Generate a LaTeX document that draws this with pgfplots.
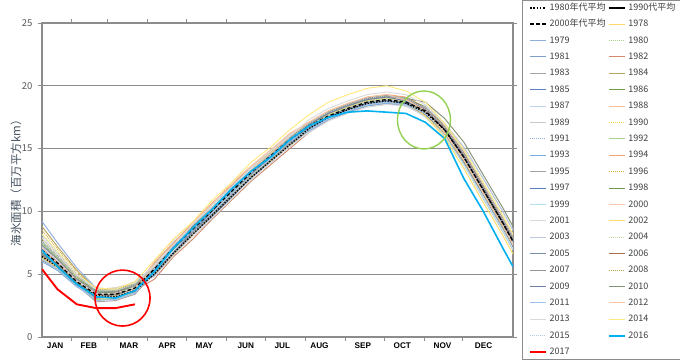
\documentclass[border=0pt]{standalone}
\usepackage{fontspec}
\setmainfont{Noto Sans CJK JP}
\newfontfamily\libsans{Liberation Sans}
\usepackage{pgfplots}
\usepackage{pgfplotstable}
\pgfplotsset{compat=1.18}
\definecolor{axisgray}{HTML}{8C8C8C}
\definecolor{gridgray}{HTML}{8C8C8C}
\definecolor{tickgray}{HTML}{595959}
\definecolor{labelgray}{HTML}{44505E}
\definecolor{legtext}{HTML}{404040}
\definecolor{c1978}{HTML}{FFD966}
\definecolor{c1979}{HTML}{8FAEDC}
\definecolor{c1980}{HTML}{A9D18E}
\definecolor{c1981}{HTML}{7F9FC7}
\definecolor{c1982}{HTML}{D08B6C}
\definecolor{c1983}{HTML}{A5A5A5}
\definecolor{c1984}{HTML}{B9A45E}
\definecolor{c1985}{HTML}{5F7FC4}
\definecolor{c1986}{HTML}{6E9F4E}
\definecolor{c1987}{HTML}{BDD3EE}
\definecolor{c1988}{HTML}{F8C09A}
\definecolor{c1989}{HTML}{C8C8C8}
\definecolor{c1990}{HTML}{FFD54F}
\definecolor{c1991}{HTML}{8EAAD6}
\definecolor{c1992}{HTML}{A9D18E}
\definecolor{c1993}{HTML}{7FAEE0}
\definecolor{c1994}{HTML}{F4A46E}
\definecolor{c1995}{HTML}{A8A4A4}
\definecolor{c1996}{HTML}{D4B040}
\definecolor{c1997}{HTML}{5C7CC0}
\definecolor{c1998}{HTML}{6F9A4E}
\definecolor{c1999}{HTML}{B8E0F2}
\definecolor{c2000}{HTML}{F9C8B0}
\definecolor{c2001}{HTML}{D9D9D9}
\definecolor{c2002}{HTML}{FFDD66}
\definecolor{c2003}{HTML}{BCC8DC}
\definecolor{c2004}{HTML}{BEDCA8}
\definecolor{c2005}{HTML}{7A8EAA}
\definecolor{c2006}{HTML}{A86E50}
\definecolor{c2007}{HTML}{939393}
\definecolor{c2008}{HTML}{BBA350}
\definecolor{c2009}{HTML}{6F84A4}
\definecolor{c2010}{HTML}{849276}
\definecolor{c2011}{HTML}{9EC4EE}
\definecolor{c2012}{HTML}{F8C5A2}
\definecolor{c2013}{HTML}{DADADA}
\definecolor{c2014}{HTML}{FFEA80}
\definecolor{c2015}{HTML}{B0C8E6}
\definecolor{c2016}{HTML}{00B0F0}
\definecolor{c2017}{HTML}{FF0000}
\definecolor{circgreen}{HTML}{92D050}

\pgfplotstableread{
d a80 a90 a00 y1978 y1979 y1980 y1981 y1982 y1983 y1984 y1985 y1986 y1987 y1988 y1989 y1990 y1991 y1992 y1993 y1994 y1995 y1996 y1997 y1998 y1999 y2000 y2001 y2002 y2003 y2004 y2005 y2006 y2007 y2008 y2009 y2010 y2011 y2012 y2013 y2014 y2015 y2016 y2017
8 6.4 6.8 6.9 nan 9.2 7.4 7.1 6.9 6.6 8.8 7.0 7.5 6.5 7.2 6.3 6.8 6.7 6.2 6.0 6.9 6.1 8.5 7.3 7.6 7.2 7.1 6.8 6.3 7.6 7.5 6.7 6.4 7.3 7.8 6.5 6.6 6.2 6.4 7.9 8.2 8.1 6.9 5.4
20 5.6 5.8 5.9 nan 7.5 6.3 6.0 5.9 5.8 7.2 6.0 6.3 5.6 6.1 5.5 5.8 5.8 5.4 5.3 5.9 5.4 7.0 6.2 6.4 6.1 6.0 5.8 5.5 6.4 6.3 5.8 5.6 6.2 6.5 5.6 5.7 5.4 5.6 6.6 6.8 6.7 5.6 3.8
35 4.2 4.4 4.4 nan 5.5 4.7 4.5 4.4 4.3 5.3 4.5 4.7 4.3 4.6 4.2 4.4 4.3 4.1 4.0 4.4 4.1 5.2 4.6 4.8 4.6 4.5 4.4 4.2 4.8 4.7 4.3 4.2 4.6 4.8 4.3 4.3 4.1 4.2 4.9 5.0 5.0 4.2 2.6
50 3.3 3.3 3.4 nan 3.9 3.6 3.3 3.3 3.5 3.8 3.4 3.7 3.1 3.5 3.0 3.2 3.2 3.0 3.1 3.5 2.8 3.7 3.6 3.5 3.3 3.4 3.5 3.1 3.9 3.6 3.2 3.2 3.6 3.8 3.1 3.3 2.9 3.3 3.8 3.9 3.7 3.2 2.3
65 3.2 3.3 3.4 nan 3.8 3.6 3.4 3.2 3.5 3.9 3.3 3.6 3.2 3.4 3.0 3.3 3.1 3.0 3.2 3.4 2.9 3.8 3.5 3.6 3.2 3.5 3.4 3.1 3.8 3.7 3.2 3.1 3.6 3.7 3.2 3.4 3.0 3.2 3.9 3.8 3.7 3.1 2.3
80 3.7 3.8 3.9 nan 4.4 4.1 3.8 3.7 4.0 4.3 3.9 4.2 3.6 4.0 3.5 3.7 3.7 3.5 3.6 4.0 3.4 4.2 4.1 4.0 3.8 3.9 4.0 3.6 4.4 4.1 3.7 3.7 4.1 4.3 3.6 3.8 3.5 3.8 4.3 4.4 4.2 3.7 2.6
95 5.0 5.3 5.4 nan 5.6 5.7 5.5 4.6 5.3 5.4 5.1 5.6 5.8 5.3 5.0 5.0 4.9 5.7 5.2 5.9 5.1 5.5 4.9 5.4 5.2 6.0 4.8 5.4 5.6 5.5 5.1 5.5 5.3 5.0 5.4 5.5 5.4 5.6 5.7 6.1 5.5 5.2 nan
110 6.7 7.0 7.1 nan 7.4 7.3 7.2 6.4 7.1 7.0 6.9 7.3 7.6 7.0 6.6 6.8 6.6 7.3 6.9 7.5 6.8 7.3 6.6 7.0 6.9 7.8 6.5 7.2 7.2 7.3 6.7 7.1 7.1 6.6 7.2 7.1 7.1 7.4 7.3 7.8 7.3 7.1 nan
125 8.2 8.5 8.6 nan 8.7 8.9 8.8 7.8 8.5 8.7 8.3 8.9 8.9 8.6 8.2 8.1 8.2 8.9 8.3 9.1 8.4 8.6 8.2 8.6 8.3 9.1 8.0 8.5 8.9 8.6 8.4 8.8 8.4 8.2 8.5 8.8 8.5 8.7 9.0 9.2 8.7 8.7 nan
140 9.7 10.0 10.1 nan 10.3 10.5 10.1 9.4 10.1 10.0 9.8 10.3 10.6 9.9 9.7 9.8 9.5 10.3 9.9 10.7 9.7 10.2 9.6 10.2 9.9 10.6 9.5 10.2 10.2 10.3 9.8 10.1 10.1 9.7 10.0 10.3 10.2 10.3 10.4 10.9 10.1 10.2 nan
155 11.2 11.5 11.6 nan 11.8 11.9 11.7 10.9 11.4 11.7 11.3 11.8 12.0 11.6 11.1 11.2 11.2 11.9 11.3 12.1 11.3 11.8 11.1 11.5 11.4 12.3 11.0 11.6 11.8 11.6 11.3 11.7 11.5 11.2 11.7 11.6 11.5 11.9 11.9 12.3 11.7 11.8 nan
170 12.7 13.0 13.1 nan 13.3 13.4 13.2 12.4 13.1 13.0 12.8 13.2 13.5 13.0 12.8 12.6 12.6 13.3 12.9 13.6 12.8 13.3 12.7 13.1 12.8 13.6 12.5 13.1 13.2 13.3 12.7 13.2 13.0 12.8 13.1 13.2 13.1 13.3 13.4 13.9 13.2 13.2 nan
185 14.0 14.3 14.4 nan 14.5 14.7 14.5 13.7 14.3 14.4 14.1 14.6 14.7 14.3 14.0 14.0 13.9 14.7 14.2 14.8 14.2 14.5 13.9 14.4 14.2 14.9 13.9 14.4 14.5 14.5 14.1 14.5 14.3 14.0 14.4 14.5 14.4 14.6 14.8 15.1 14.5 14.3 nan
200 15.3 15.6 15.7 nan 15.9 15.9 15.8 15.0 15.7 15.7 15.4 15.9 16.1 15.6 15.3 15.3 15.3 15.9 15.5 16.2 15.5 15.8 15.2 15.8 15.4 16.2 15.2 15.7 15.9 15.8 15.4 15.8 15.7 15.3 15.7 15.8 15.6 16.0 16.0 16.5 15.8 15.7 nan
215 16.6 16.7 16.8 nan 16.8 16.9 16.6 16.3 16.8 16.5 16.6 16.9 17.0 16.9 16.5 16.6 16.7 16.8 16.4 17.1 16.9 16.7 16.5 17.0 16.5 17.0 16.3 16.8 16.7 16.8 16.6 17.0 17.0 16.5 16.9 17.0 16.5 17.1 17.3 17.7 17.0 16.8 nan
230 17.5 17.6 17.6 nan 17.5 17.8 17.5 17.3 17.7 17.4 17.5 17.8 17.9 17.8 17.4 17.5 17.6 17.7 17.3 18.0 17.8 17.6 17.5 17.9 17.4 17.8 17.2 17.7 17.6 17.7 17.5 17.9 17.9 17.4 17.8 17.9 17.4 18.0 18.2 18.7 17.9 17.5 nan
245 18.1 18.2 18.2 nan 18.3 18.4 18.1 17.9 18.3 18.0 18.1 18.4 18.5 18.4 18.0 18.1 18.2 18.3 17.9 18.6 18.4 18.2 18.1 18.5 18.0 18.4 17.8 18.3 18.2 18.3 18.1 18.5 18.5 18.0 18.4 18.5 18.0 18.6 18.8 19.3 18.5 17.9 nan
260 18.6 18.7 18.7 nan 18.7 18.9 18.6 18.4 18.8 18.5 18.6 18.9 19.0 18.9 18.5 18.6 18.7 18.8 18.4 19.1 18.9 18.7 18.6 19.0 18.5 18.9 18.3 18.8 18.7 18.8 18.6 19.0 19.0 18.5 18.9 19.0 18.5 19.1 19.3 19.8 19.0 18.0 nan
275 18.8 18.9 18.9 nan 18.9 19.1 18.8 18.6 19.0 18.7 18.8 19.1 19.2 19.1 18.7 18.8 18.9 19.0 18.6 19.3 19.1 18.9 18.8 19.2 18.7 19.1 18.5 19.0 18.9 19.0 18.8 19.2 19.2 18.7 19.1 19.2 18.7 19.3 19.5 20.0 19.2 17.9 nan
290 18.6 18.7 18.7 nan 18.8 18.9 18.6 18.4 18.7 18.5 18.6 18.9 18.9 18.9 18.5 18.5 18.7 18.8 18.4 19.1 18.7 18.7 18.6 19.0 18.5 18.9 18.4 18.8 18.7 18.8 18.7 19.0 19.0 18.5 18.8 19.0 18.5 18.9 19.3 19.6 19.0 17.8 nan
305 17.9 17.9 18.0 18.1 18.0 18.3 18.0 17.9 18.2 17.9 17.9 18.1 18.4 18.2 17.6 17.6 18.0 17.9 17.6 18.3 18.0 17.9 17.7 18.3 17.5 18.1 17.6 17.6 18.3 17.9 18.0 18.2 18.1 17.7 18.0 18.7 17.8 18.0 18.5 18.7 18.2 17.1 nan
320 16.5 16.4 16.5 16.6 16.6 16.8 16.6 16.7 16.9 16.6 16.5 16.6 17.0 16.7 16.2 16.1 16.6 16.3 16.2 16.8 16.4 16.5 16.2 16.9 16.0 16.6 16.2 15.9 17.0 16.3 16.6 16.7 16.6 16.2 16.5 17.4 16.4 16.3 16.9 17.0 16.7 15.8 nan
335 14.3 14.2 14.3 14.5 14.4 14.7 14.5 14.6 14.8 14.4 14.3 14.5 15.1 14.6 13.7 13.8 14.4 14.1 14.0 14.7 14.2 14.3 13.9 14.8 13.7 14.4 14.0 13.4 15.1 14.1 14.5 14.6 14.4 14.0 14.3 15.5 14.2 14.1 14.8 14.9 14.6 12.6 nan
350 11.7 11.6 11.7 11.9 11.8 12.1 11.9 12.0 12.2 11.8 11.7 11.9 12.6 12.0 11.0 11.2 11.8 11.5 11.4 12.1 11.6 11.7 11.3 12.2 11.1 11.8 11.4 10.7 12.6 11.5 11.9 12.0 11.8 11.4 11.7 12.9 11.6 11.5 12.2 12.3 12.0 10.0 nan
365 9.1 9.0 9.1 9.3 9.2 9.5 9.3 9.4 9.6 9.2 9.1 9.3 10.0 9.4 8.4 8.6 9.2 8.9 8.8 9.5 9.0 9.1 8.7 9.6 8.5 9.2 8.8 8.1 10.0 8.9 9.3 9.4 9.2 8.8 9.1 10.3 9.0 8.9 9.6 9.7 9.4 7.1 nan
373 7.6 7.5 7.6 7.8 7.7 8.0 7.8 7.9 8.1 7.7 7.6 7.8 8.5 7.9 6.9 7.1 7.7 7.4 7.3 8.0 7.5 7.6 7.2 8.1 7.0 7.7 7.3 6.6 8.5 7.4 7.8 7.9 7.7 7.3 7.6 8.8 7.5 7.4 8.1 8.2 7.9 5.6 nan
}\seaice

\newcommand{\yr}[2]{\addplot[color=c#1, line width=0.95bp, #2] table[x=d, y=y#1]{\seaice};\addlegendentry{#1}}

\begin{document}
\begin{tikzpicture}
\begin{axis}[
  name=ax,
  scale only axis, width=471bp, height=314bp,
  xmin=8, xmax=373, ymin=0, ymax=25,
  axis line style={draw=axisgray, line width=1.2bp},
  ytick={0,5,10,15,20,25},
  ymajorgrids, grid style={draw=gridgray, line width=1.3bp},
  xtick={31,59,90,120,151,181,212,243,273,304,334},
  xticklabels={},
  extra x ticks={18.2,44.3,75.3,104.9,133.9,165.9,194.2,223,256.6,287.2,318.4,350.2},
  extra x tick labels={JAN,FEB,MAR,APR,MAY,JUN,JUL,AUG,SEP,OCT,NOV,DEC},
  extra x tick style={major tick length=0pt, tick style={draw=none}},
  tick align=outside, major tick length=4bp,
  tick style={draw=axisgray, line width=0.9bp},
  xticklabel style={font=\libsans\bfseries\fontsize{8.2bp}{9bp}\selectfont, text=black, yshift=-2bp},
  yticklabel style={font=\fontsize{9.5bp}{10bp}\selectfont, text=tickgray, xshift=-2bp},
  /pgf/number format/assume math mode=true,
  ylabel={海氷面積（百万平方km）},
  ylabel style={at={(axis description cs:-0.055,0.5)}, anchor=center, font=\fontsize{11.5bp}{12bp}\selectfont, text=labelgray},
  unbounded coords=discard,
  legend columns=2,
  legend cell align=left,
  legend image code/.code={\draw[#1] (0bp,0bp) -- (16bp,0bp);},
  legend style={at={(1.0191,1.0732)}, anchor=north west, draw=axisgray, fill=white,
    font=\fontsize{9bp}{10bp}\selectfont, text=legtext,
    inner xsep=7bp, inner ysep=3bp, row sep=7.4bp,
    nodes={inner sep=0pt, text height=7bp, text depth=2bp},
    /tikz/every odd column/.append style={column sep=2.5bp},
    /tikz/every even column/.append style={column sep=2bp}},
]
\addlegendimage{black, line width=1.6bp, dash pattern=on 1.6bp off 1.6bp}\addlegendentry{1980年代平均}
\addlegendimage{black, line width=2.2bp}\addlegendentry{1990代平均}
\addlegendimage{black, line width=1.6bp, dash pattern=on 4bp off 2bp}\addlegendentry{2000年代平均}
\addplot[forget plot, black, line width=1.4bp] table[x=d, y=a90]{\seaice};
\yr{1978}{}
\yr{1979}{}
\yr{1980}{dash pattern=on 1bp off 1bp}
\yr{1981}{}
\yr{1982}{}
\yr{1983}{}
\yr{1984}{}
\yr{1985}{}
\yr{1986}{}
\yr{1987}{}
\yr{1988}{}
\yr{1989}{}
\yr{1990}{dash pattern=on 1bp off 1bp}
\yr{1991}{dash pattern=on 1bp off 1bp}
\yr{1992}{}
\yr{1993}{}
\yr{1994}{}
\yr{1995}{}
\yr{1996}{dash pattern=on 1bp off 1bp}
\yr{1997}{}
\yr{1998}{}
\yr{1999}{}
\yr{2000}{}
\yr{2001}{}
\yr{2002}{}
\yr{2003}{}
\yr{2004}{dash pattern=on 1bp off 1bp}
\yr{2005}{}
\yr{2006}{}
\yr{2007}{}
\yr{2008}{dash pattern=on 1bp off 1bp}
\yr{2009}{}
\yr{2010}{}
\yr{2011}{}
\yr{2012}{}
\yr{2013}{}
\yr{2014}{}
\yr{2015}{dash pattern=on 1bp off 1bp}
\addplot[forget plot, black, line width=1.3bp, dash pattern=on 1.3bp off 1.6bp] table[x=d, y=a80]{\seaice};
\addplot[forget plot, black, line width=1.3bp, dash pattern=on 3.5bp off 2.5bp] table[x=d, y=a00]{\seaice};
\addplot[c2016, line width=1.6bp] table[x=d, y=y2016]{\seaice};\addlegendentry{2016}
\addplot[c2017, line width=1.9bp] table[x=d, y=y2017]{\seaice};\addlegendentry{2017}
\draw[c2017, line width=1.6bp] (axis cs:70.4,3.1) ellipse [x radius=27.5bp, y radius=28bp];
\draw[circgreen, line width=1.4bp] (axis cs:304,17.28) ellipse [x radius=26.5bp, y radius=29bp];
\end{axis}
\pgfresetboundingbox
\path[use as bounding box] ([shift={(-42bp,-27bp)}]ax.south west) rectangle ++(680bp,364bp);
\end{tikzpicture}
\end{document}
